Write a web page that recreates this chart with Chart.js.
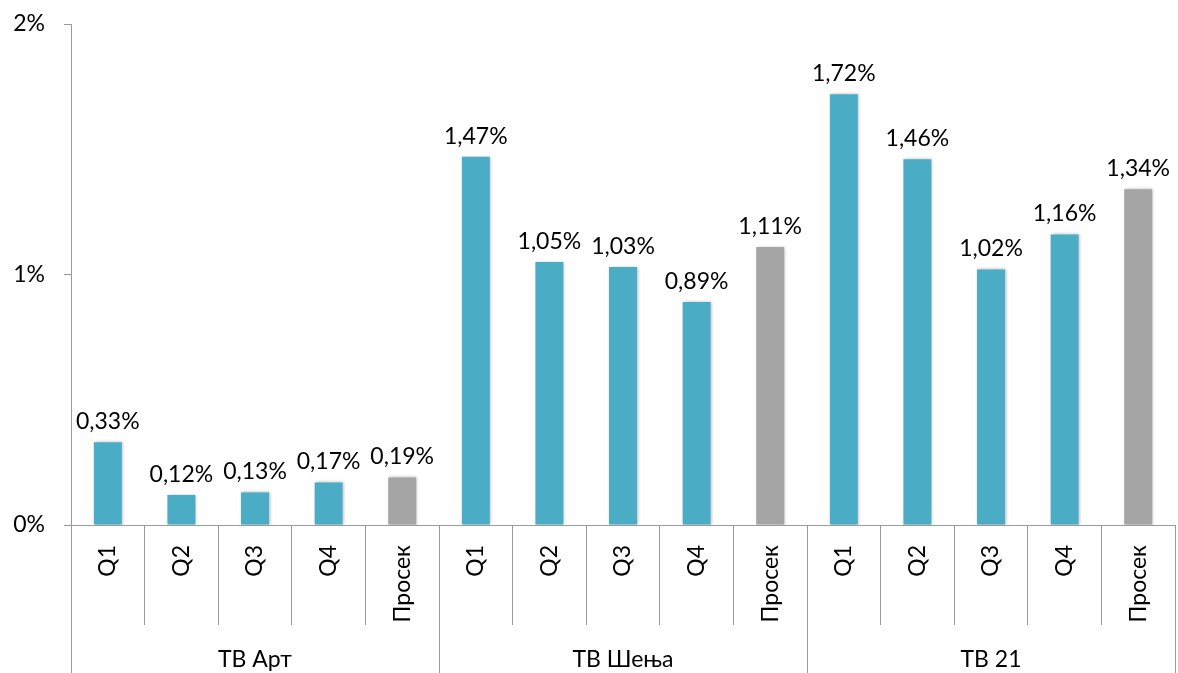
<!DOCTYPE html>
<html><head><meta charset="utf-8">
<script src="https://cdn.jsdelivr.net/npm/chart.js@4.4.1/dist/chart.umd.min.js"></script>
<style>html,body{margin:0;padding:0;background:#fff}#wrap{width:1178px;height:673px;position:relative}</style>
</head><body><div id="wrap"><canvas id="c"></canvas></div>
<script>
const groups = ['ТВ Арт', 'ТВ Шења', 'ТВ 21'];
const quarters = ['Q1', 'Q2', 'Q3', 'Q4', 'Просек'];
const categories = ['Q1','Q2','Q3','Q4','Просек','Q1','Q2','Q3','Q4','Просек','Q1','Q2','Q3','Q4','Просек'];
const values = [0.33, 0.12, 0.13, 0.17, 0.19, 1.47, 1.05, 1.03, 0.89, 1.11, 1.72, 1.46, 1.02, 1.16, 1.34];
const yTicks = [0, 1, 2];

const BLUE = '#4BACC6', GRAY = '#A5A5A5', LINE = '#9A9A9A';
const FONT = 'Lato';
const FS = 23;
const fmt = v => v.toFixed(2).replace('.', ',') + '%';

const valueLabels = {
  id: 'valueLabels',
  beforeDatasetsDraw(chart) {
    const ctx = chart.ctx;
    ctx.save();
    ctx.shadowColor = 'rgba(0,0,0,0.28)';
    ctx.shadowBlur = 3;
    ctx.shadowOffsetX = 1;
    ctx.shadowOffsetY = 0;
  },
  afterDatasetsDraw(chart) {
    const ctx = chart.ctx;
    ctx.restore();
    const meta = chart.getDatasetMeta(0);
    ctx.save();
    ctx.font = FS + 'px ' + FONT;
    ctx.fillStyle = '#000';
    ctx.textAlign = 'center';
    ctx.textBaseline = 'bottom';
    meta.data.forEach((bar, i) => {
      ctx.fillText(fmt(values[i]), bar.x, bar.y - 9);
    });
    ctx.restore();
  }
};

new Chart(document.getElementById('c'), {
  type: 'bar',
  data: {
    labels: categories,
    datasets: [{
      data: values,
      backgroundColor: categories.map(c => c === 'Просек' ? GRAY : BLUE),
      categoryPercentage: 1,
      barPercentage: 0.38,
      borderWidth: 0
    }]
  },
  options: {
    responsive: true,
    maintainAspectRatio: false,
    animation: false,
    layout: { padding: { top: 24, right: 3, left: 0, bottom: 0 } },
    plugins: { legend: { display: false }, tooltip: { enabled: false } },
    scales: {
      x: {
        type: 'category',
        offset: true,
        weight: 0,
        grid: { display: true, drawOnChartArea: false, offset: true, tickLength: 100, color: LINE, lineWidth: 1 },
        border: { display: true, color: LINE, width: 1 },
        ticks: { autoSkip: false, maxRotation: 90, minRotation: 90, padding: -80, color: '#000', font: { family: FONT, size: FS } },
        afterFit(s) { s.height = 100; s.paddingLeft = 0; s.paddingRight = 0; s.paddingTop = 0; s.paddingBottom = 0; }
      },
      x2: {
        type: 'category',
        position: 'bottom',
        labels: groups,
        offset: true,
        weight: 1,
        grid: { display: true, drawOnChartArea: false, offset: true, tickLength: 48, color: LINE, lineWidth: 1 },
        border: { display: false },
        ticks: { autoSkip: false, maxRotation: 0, minRotation: 0, padding: -27, color: '#000', font: { family: FONT, size: FS } },
        afterFit(s) { s.height = 48; s.paddingLeft = 0; s.paddingRight = 0; s.paddingTop = 0; s.paddingBottom = 0; }
      },
      y: {
        min: 0,
        max: 2,
        afterBuildTicks(s) { s.ticks = yTicks.map(v => ({ value: v })); },
        grid: { display: true, drawOnChartArea: false, tickLength: 7, color: LINE },
        border: { display: true, color: LINE, width: 1 },
        ticks: { padding: 19, color: '#000', font: { family: FONT, size: FS }, callback: v => v + '%' },
        afterFit(s) { s.width = 71; s.paddingTop = 0; s.paddingBottom = 0; s.paddingLeft = 0; s.paddingRight = 0; }
      }
    }
  },
  plugins: [valueLabels]
});
</script>
</body></html>
